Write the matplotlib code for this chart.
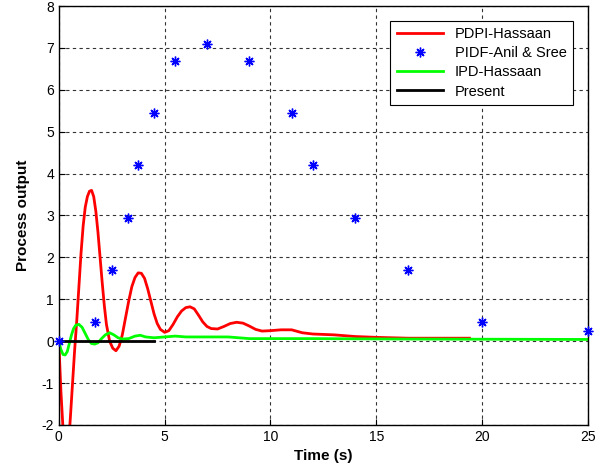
import matplotlib
matplotlib.use("Agg")
import matplotlib.pyplot as plt

plt.rcParams['font.family'] = ['Liberation Sans', 'DejaVu Sans']
plt.rcParams['axes.unicode_minus'] = False

# PDPI-Hassaan response
pdpi_t = [0, 0.1, 0.2, 0.3, 0.38, 0.47, 0.55, 0.65, 0.75, 0.85, 0.95, 1.05, 1.15,
          1.25, 1.35, 1.45, 1.55, 1.65, 1.75, 1.85, 1.95, 2.05, 2.15, 2.25, 2.4,
          2.55, 2.7, 2.85, 3.0, 3.15, 3.3, 3.45, 3.6, 3.75, 3.9, 4.05, 4.2, 4.35,
          4.5, 4.65, 4.8, 5.0, 5.2, 5.4, 5.6, 5.8, 6.0, 6.2, 6.4, 6.6, 6.8, 7.0,
          7.2, 7.5, 7.8, 8.1, 8.4, 8.7, 9.0, 9.3, 9.6, 10.0, 10.5, 11.0, 11.5,
          12.0, 13.0, 14.0, 15.0, 16.5, 19.4]
pdpi_y = [0, -1.2, -2.1, -2.5, -2.6, -2.4, -1.8, -1.0, -0.2, 0.5, 1.3, 2.1, 2.75,
          3.2, 3.45, 3.58, 3.6, 3.45, 3.1, 2.6, 2.0, 1.4, 0.85, 0.4, 0.0,
          -0.17, -0.23, -0.12, 0.15, 0.55, 0.95, 1.3, 1.52, 1.63, 1.62, 1.5, 1.25, 0.95,
          0.65, 0.42, 0.28, 0.21, 0.25, 0.4, 0.58, 0.72, 0.8, 0.82, 0.77, 0.62, 0.46, 0.35,
          0.3, 0.29, 0.35, 0.42, 0.45, 0.43, 0.36, 0.28, 0.24, 0.25, 0.27, 0.27, 0.2,
          0.17, 0.15, 0.11, 0.09, 0.07, 0.07]

# PIDF-Anil & Sree points
pidf_t = [0, 1.7, 2.5, 3.25, 3.75, 4.5, 5.5, 7.0, 9.0, 11.0, 12.0, 14.0, 16.5, 20.0, 25.0]
pidf_y = [0, 0.45, 1.7, 2.95, 4.2, 5.45, 6.7, 7.1, 6.7, 5.45, 4.2, 2.95, 1.7, 0.45, 0.25]

# IPD-Hassaan response
ipd_t = [0, 0.1, 0.2, 0.3, 0.4, 0.5, 0.6, 0.7, 0.8, 0.95, 1.1, 1.25, 1.4, 1.55,
         1.7, 1.85, 2.0, 2.2, 2.4, 2.6, 2.8, 3.0, 3.3, 3.6, 3.85, 4.1, 4.5, 5.0,
         5.5, 6.0, 8.0, 9.0, 12.0, 16.0, 25.0]
ipd_y = [0, -0.2, -0.32, -0.33, -0.25, -0.05, 0.15, 0.3, 0.38, 0.4, 0.33, 0.18, 0.03, -0.06,
         -0.07, -0.04, 0.05, 0.15, 0.2, 0.15, 0.08, 0.05, 0.06, 0.12, 0.14, 0.1, 0.08, 0.1,
         0.12, 0.1, 0.1, 0.06, 0.06, 0.05, 0.04]

# Present
present_t = [0, 4.5]
present_y = [0, 0]

fig = plt.figure(figsize=(6, 4.7), dpi=100)
ax = fig.add_axes([0.098, 0.096, 0.882, 0.891])

ax.plot(pdpi_t, pdpi_y, color='red', lw=2, label='PDPI-Hassaan')
ax.plot(pidf_t, pidf_y, linestyle='none', marker=(8, 2, 0), markersize=7,
        markeredgewidth=1.0, color='blue', label='PIDF-Anil & Sree', clip_on=False, zorder=4)
ax.plot(ipd_t, ipd_y, color='#00ff00', lw=2, label='IPD-Hassaan')
ax.plot(present_t, present_y, color='black', lw=2, label='Present')

ax.set_xlim(0, 25)
ax.set_ylim(-2, 8)
ax.set_xticks(range(0, 26, 5))
ax.set_yticks(range(-2, 9))
ax.grid(True, color='black', linestyle=(0, (3, 3)), lw=0.8, alpha=0.8)
ax.tick_params(labelsize=10, direction='in', length=4)
for s in ax.spines.values():
    s.set_linewidth(1)

ax.set_xlabel('Time (s)', fontsize=11, fontweight='bold', labelpad=4)
ax.set_ylabel('Process output', fontsize=11, fontweight='bold', labelpad=8)

leg = ax.legend(loc='upper right', fontsize=10.5, fancybox=False, framealpha=1,
                edgecolor='black', borderaxespad=1.0, handlelength=3.2,
                labelspacing=0.35, borderpad=0.45)
leg.get_frame().set_linewidth(0.8)

fig.savefig('out.png', dpi=100)
